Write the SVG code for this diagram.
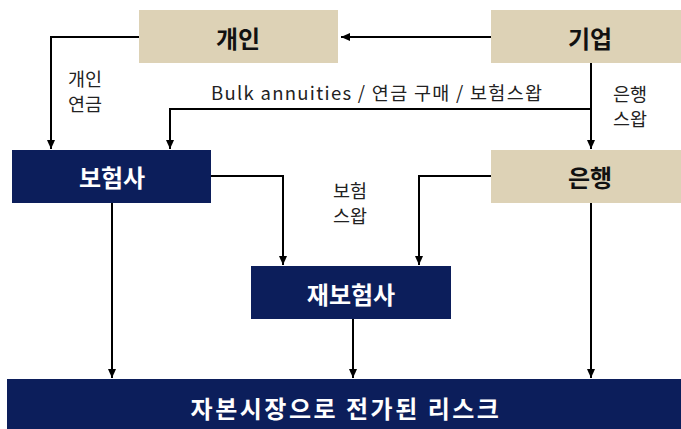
<svg xmlns="http://www.w3.org/2000/svg" width="681" height="429" viewBox="0 0 681 429">
<defs>
<marker id="ah" markerWidth="10" markerHeight="10" refX="9" refY="5" orient="auto" markerUnits="userSpaceOnUse">
<path d="M0,1 L9,5 L0,9 Z" fill="#000"/>
</marker>
<style>
.tan{fill:#DDD2B6}
.navy{fill:#0C1E5B}
.bt{font-family:"Noto Sans CJK KR","Noto Sans",sans-serif;font-weight:bold;font-size:24px;text-anchor:middle;dominant-baseline:central}
.dk{fill:#111}
.wt{fill:#fff}
.lb{font-family:"Noto Sans CJK KR","Noto Sans",sans-serif;font-size:18.5px;fill:#222;dominant-baseline:central}
.ln{fill:none;stroke:#000;stroke-width:2}
</style>
</defs>
<g id="connectors">
<path class="ln" d="M491,37 H341" marker-end="url(#ah)"/>
<path class="ln" d="M139,37 H51 V149" marker-end="url(#ah)"/>
<path class="ln" d="M591,63 V149" marker-end="url(#ah)"/>
<path class="ln" d="M591,109 H170 V149" marker-end="url(#ah)"/>
<path class="ln" d="M211,176 H283 V265" marker-end="url(#ah)"/>
<path class="ln" d="M491,176 H419 V265" marker-end="url(#ah)"/>
<path class="ln" d="M112,203 V378" marker-end="url(#ah)"/>
<path class="ln" d="M353,319 V378" marker-end="url(#ah)"/>
<path class="ln" d="M591,203 V378" marker-end="url(#ah)"/>
<text class="lb" x="85" y="78" text-anchor="middle">개인</text>
<text class="lb" x="85" y="103" text-anchor="middle">연금</text>
<text class="lb" x="211" y="92" textLength="331" lengthAdjust="spacing">Bulk annuities / 연금 구매 / 보험스왑</text>
<text class="lb" x="630" y="93" text-anchor="middle">은행</text>
<text class="lb" x="630" y="118" text-anchor="middle">스왑</text>
<text class="lb" x="350" y="190" text-anchor="middle">보험</text>
<text class="lb" x="350" y="215" text-anchor="middle">스왑</text>
</g>
<g id="node-gaein">
<rect class="tan" x="139" y="10" width="199" height="53"/>
<text class="bt dk" x="238" y="37">개인</text>
</g>
<g id="node-gieop">
<rect class="tan" x="491" y="10" width="190" height="53"/>
<text class="bt dk" x="590" y="37">기업</text>
</g>
<g id="node-insurer">
<rect class="navy" x="12" y="150" width="199" height="53"/>
<text class="bt wt" x="112" y="176">보험사</text>
</g>
<g id="node-bank">
<rect class="tan" x="491" y="150" width="190" height="53"/>
<text class="bt dk" x="590" y="176">은행</text>
</g>
<g id="node-reinsurer">
<rect class="navy" x="251" y="266" width="200" height="53"/>
<text class="bt wt" x="351" y="293">재보험사</text>
</g>
<g id="node-capital">
<rect class="navy" x="7" y="379" width="674" height="50"/>
<text class="bt wt" x="346" y="407" style="letter-spacing:2.5px">자본시장으로 전가된 리스크</text>
</g>
</svg>
